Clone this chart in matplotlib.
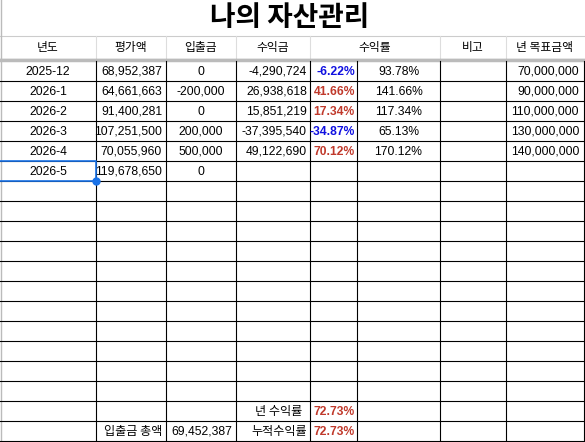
import matplotlib
matplotlib.use("Agg")
import matplotlib.pyplot as plt

plt.rcParams['font.family'] = ['Liberation Sans', 'Noto Sans CJK KR', 'DejaVu Sans']

title = "나의 자산관리"
headers = ["년도", "평가액", "입출금", "수익금", "수익률", "비고", "년 목표금액"]
periods = ["2025-12", "2026-1", "2026-2", "2026-3", "2026-4", "2026-5"]
values = ["68,952,387", "64,661,663", "91,400,281", "107,251,500", "70,055,960", "119,678,650"]
flows = ["0", "-200,000", "0", "200,000", "500,000", "0"]
profits = ["-4,290,724", "26,938,618", "15,851,219", "-37,395,540", "49,122,690"]
rates = ["-6.22%", "41.66%", "17.34%", "-34.87%", "70.12%"]
ratios = ["93.78%", "141.66%", "117.34%", "65.13%", "170.12%"]
targets = ["70,000,000", "90,000,000", "110,000,000", "130,000,000", "140,000,000"]
total_flow_label = "입출금 총액"
total_flow = "69,452,387"
year_rate_label = "년 수익률"
year_rate = "72.73%"
cum_rate_label = "누적수익률"
cum_rate = "72.73%"

W, H = 585, 442
fig = plt.figure(figsize=(W/100, H/100), dpi=100)
ax = fig.add_axes([0, 0, 1, 1])
ax.set_xlim(0, W); ax.set_ylim(H, 0); ax.axis('off')

cols = [0, 96, 166, 236, 310, 357, 440, 506, 584]
top = 61; rh = 20; nrows = 19
bottom = top + rh*nrows
RED = "#c0392b"; BLUE = "#1010e0"

ax.text(290, 18, title, ha='center', va='center', fontsize=20, fontweight='bold',
        family=['Noto Sans CJK KR'])
ax.plot([0, W], [36, 36], color='#cccccc', lw=0.8)
hcols = [0, 96, 166, 236, 310, 440, 506, 584]
for i, h in enumerate(headers):
    cx = (hcols[i] + hcols[i+1]) / 2
    ax.text(cx, 47, h, ha='center', va='center', fontsize=8.5, family=['Noto Sans CJK KR'])
for x in hcols[1:-1]:
    ax.plot([x, x], [36, 58], color='#dddddd', lw=0.8)
ax.plot([0, W], [58.5, 58.5], color='#333333', lw=0.8)
ax.plot([0, W], [60, 60], color='#bbbbbb', lw=2.5)
ax.plot([0.5, 0.5], [0, H], color='#bbbbbb', lw=1)

for r in range(1, nrows+1):
    y = top + r*rh
    ax.plot([0, W], [y, y], color='black', lw=0.8)
for x in cols[1:]:
    ax.plot([x, x], [top, bottom], color='black', lw=0.8)

fs = 8.7
for i, p in enumerate(periods):
    yc = top + i*rh + rh/2 + 1
    ax.text((cols[0]+cols[1])/2, yc, p, ha='center', va='center', fontsize=fs)
    ax.text(cols[2]-4, yc, values[i], ha='right', va='center', fontsize=fs)
    ax.text((cols[2]+cols[3])/2, yc, flows[i], ha='center', va='center', fontsize=fs)
    if i < len(profits):
        ax.text(cols[4]-3, yc, profits[i], ha='right', va='center', fontsize=fs)
        c = BLUE if rates[i].startswith('-') else RED
        ax.text(cols[5]-2, yc, rates[i], ha='right', va='center', fontsize=fs,
                fontweight='bold', color=c)
        ax.text((cols[5]+cols[6])/2, yc, ratios[i], ha='center', va='center', fontsize=fs)
        ax.text(cols[8]-5, yc, targets[i], ha='right', va='center', fontsize=fs)

ys = top + 5*rh
ax.plot([0, cols[1], cols[1], 0], [ys, ys, ys+rh, ys+rh], color='#1a73e8', lw=1.2)
ax.plot([cols[1]], [ys+rh], 'o', color='#1a73e8', ms=5)

y1 = top + 17*rh + rh/2 + 1
y2 = top + 18*rh + rh/2 + 1
ax.text(cols[4]-8, y1, year_rate_label, ha='right', va='center', fontsize=fs, family=['Noto Sans CJK KR'])
ax.text(cols[5]-2, y1, year_rate, ha='right', va='center', fontsize=fs, fontweight='bold', color=RED)
ax.text(cols[4]-3, y2, cum_rate_label, ha='right', va='center', fontsize=fs, family=['Noto Sans CJK KR'])
ax.text(cols[5]-2, y2, cum_rate, ha='right', va='center', fontsize=fs, fontweight='bold', color=RED)
ax.text(cols[2]-4, y2, total_flow_label, ha='right', va='center', fontsize=fs, family=['Noto Sans CJK KR'])
ax.text(cols[3]-4, y2, total_flow, ha='right', va='center', fontsize=fs)

fig.savefig("out.png", dpi=100)
